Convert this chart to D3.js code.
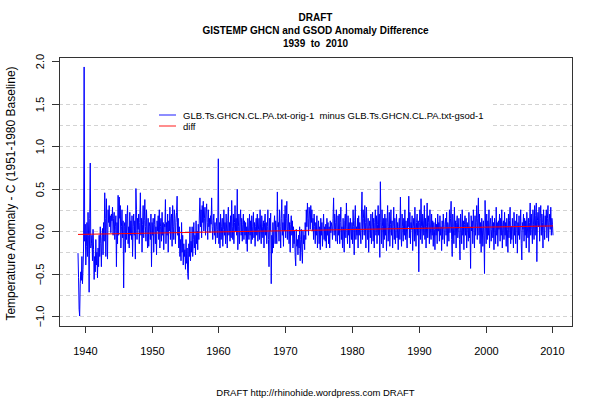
<html>
<head>
<meta charset="utf-8">
<style>
body { margin: 0; background: #fff; }
text { font-family: "Liberation Sans", Arial, Helvetica, sans-serif; fill: #000; white-space: pre; }
</style>
</head>
<body>
<div id="chart"></div>
<script src="https://d3js.org/d3.v7.min.js"></script>
<script>
// monthly anomaly difference (orig - gsod), starting Jan 1939
var startYear = 1939;
var diff1930s = [-0.26, -0.55, -0.92, -1.00, -0.62, -0.48, -0.58, -0.30, -0.62, -0.45, -0.20, 1.93];
var diff1940s = [
  -0.12, 0.08, -0.40, -0.18, 0.10, -0.30, 0.22, -0.05, -0.72, 0.15, 0.80, -0.20,
  -0.15, -0.05, -0.35, 0.02, -0.22, -0.57, -0.30, -0.48, -0.10, -0.40, -0.25, -0.55,
  -0.20, -0.42, -0.05, -0.30, 0.05, -0.15, -0.42, -0.08, 0.03, -0.28, 0.10, -0.12,
  0.45, 0.15, -0.30, 0.38, 0.02, -0.33, 0.25, 0.10, 0.30, 0.05, 0.18, -0.02,
  0.20, 0.12, 0.28, -0.05, 0.15, 0.22, -0.10, 0.05, 0.18, -0.42, 0.10, -0.15,
  0.42, -0.05, 0.40, 0.15, 0.30, -0.20, 0.05, 0.25, -0.08, 0.12, -0.67, 0.05,
  0.10, -0.25, 0.20, -0.10, 0.15, 0.30, -0.15, 0.05, -0.20, 0.22, -0.05, 0.12,
  -0.10, 0.18, -0.30, 0.05, 0.20, -0.05, 0.12, -0.33, 0.50, 0.25, -0.10, 0.15,
  0.02, 0.20, -0.15, 0.10, 0.45, -0.05, 0.15, -0.25, 0.08, 0.30, -0.08, 0.12,
  0.37, 0.05, -0.12, 0.25, 0.00, -0.20, 0.15, -0.18, 0.10, 0.05, -0.10, 0.20
];
var diff1950s = [
  -0.42, 0.10, -0.05, 0.15, -0.25, 0.08, 0.20, -0.15, 0.05, -0.28, 0.12, 0.00,
  0.18, -0.10, 0.25, -0.20, 0.05, 0.15, -0.12, 0.22, -0.05, 0.10, -0.22, 0.08,
  0.05, 0.37, -0.15, 0.10, -0.05, 0.20, -0.25, 0.12, 0.00, 0.28, -0.10, 0.15,
  0.20, -0.18, 0.30, 0.05, -0.10, 0.25, 0.15, -0.15, 0.10, 0.22, 0.41, -0.05,
  0.15, -0.20, 0.05, -0.30, -0.10, -0.35, 0.10, -0.25, -0.05, -0.40, -0.15, -0.30,
  -0.22, -0.45, -0.10, -0.38, -0.20, -0.50, -0.57, -0.15, -0.30, 0.05, -0.35, -0.12,
  -0.25, 0.05, -0.30, -0.10, 0.10, -0.20, -0.05, -0.28, 0.12, -0.15, 0.00, -0.22,
  0.08, -0.10, 0.20, 0.39, 0.05, 0.25, -0.08, 0.30, 0.10, 0.35, 0.00, 0.15,
  0.28, -0.05, 0.20, 0.32, 0.10, -0.10, 0.25, 0.05, 0.15, -0.02, 0.18, 0.08,
  0.39, 0.05, -0.10, 0.12, 0.20, -0.05, 0.10, -0.15, 0.05, 0.15, -0.08, 0.02
];
var diff1960s = [
  0.85, -0.15, 0.10, -0.20, 0.20, -0.10, 0.05, 0.15, -0.18, 0.02, 0.25, -0.05,
  0.10, -0.15, 0.20, 0.00, -0.20, 0.12, 0.28, -0.05, 0.10, -0.12, 0.18, -0.08,
  0.36, 0.05, -0.10, 0.20, -0.15, 0.10, 0.30, 0.00, 0.15, -0.05, 0.49, -0.22,
  0.05, 0.20, -0.15, 0.10, 0.25, -0.05, 0.15, -0.12, 0.08, 0.20, -0.10, 0.12,
  -0.05, 0.10, -0.15, 0.05, -0.24, 0.15, 0.00, -0.10, 0.20, -0.05, 0.12, -0.15,
  0.18, -0.10, 0.05, 0.22, -0.08, 0.10, -0.18, 0.05, 0.15, -0.05, 0.20, -0.12,
  0.02, 0.15, -0.10, 0.25, 0.00, -0.15, 0.18, 0.05, -0.08, 0.12, -0.20, 0.10,
  0.20, -0.05, 0.10, -0.15, 0.05, 0.25, -0.10, -0.42, 0.15, 0.00, 0.21, -0.62,
  -0.05, -0.26, 0.10, -0.20, 0.05, 0.18, -0.15, 0.12, 0.02, -0.15, 0.46, 0.05,
  0.10, -0.12, 0.25, 0.05, -0.20, 0.15, 0.37, -0.05, 0.10, -0.18, 0.20, 0.00
];
var diff1970s = [
  0.30, -0.08, 0.15, 0.35, -0.10, 0.05, 0.20, -0.15, 0.10, -0.25, 0.08, 0.18,
  -0.05, 0.12, -0.20, 0.05, -0.15, 0.00, -0.30, -0.41, 0.02, -0.18, -0.10, -0.28,
  -0.05, -0.20, 0.05, -0.35, -0.10, 0.02, -0.25, -0.38, 0.00, -0.15, -0.05, -0.22,
  0.10, -0.10, 0.25, 0.05, 0.33, 0.15, -0.05, 0.28, 0.20, 0.02, 0.30, 0.10,
  0.25, 0.00, 0.15, -0.10, 0.20, 0.05, -0.15, 0.10, -0.05, 0.18, -0.20, 0.02,
  0.12, -0.15, 0.05, -0.22, 0.15, -0.05, 0.10, -0.18, 0.02, 0.20, -0.10, 0.05,
  -0.12, 0.08, -0.20, 0.15, -0.05, 0.10, -0.15, 0.05, -0.20, 0.12, -0.02, 0.10,
  0.05, -0.10, 0.15, 0.39, -0.05, 0.20, 0.10, -0.12, 0.25, 0.02, -0.15, 0.18,
  -0.05, 0.20, -0.15, 0.10, 0.28, -0.10, 0.05, -0.20, 0.15, 0.00, -0.25, 0.12,
  0.20, -0.08, 0.33, 0.05, -0.15, 0.18, -0.05, 0.10, -0.20, 0.15, 0.02, -0.10
];
var diff1980s = [
  0.10, -0.15, 0.25, 0.05, -0.28, 0.12, 0.30, -0.10, 0.05, -0.05, 0.15, -0.20,
  0.18, -0.05, 0.10, 0.00, -0.15, 0.20, 0.46, -0.10, 0.25, 0.15, -0.05, 0.30,
  0.10, -0.20, 0.28, 0.05, -0.10, 0.15, -0.25, 0.05, 0.12, -0.08, 0.20, -0.15,
  0.05, 0.22, -0.12, 0.15, -0.20, 0.10, 0.25, -0.05, 0.18, -0.15, 0.08, 0.30,
  -0.05, 0.20, -0.31, 0.58, 0.10, -0.15, 0.25, 0.05, -0.20, 0.15, -0.10, 0.20,
  -0.05, 0.15, -0.23, 0.10, 0.30, -0.12, 0.05, 0.22, -0.18, 0.08, 0.25, -0.05,
  0.12, -0.20, 0.05, 0.28, -0.10, 0.15, -0.15, 0.02, 0.20, -0.08, 0.10, -0.22,
  0.05, 0.15, -0.10, 0.40, 0.00, -0.18, 0.20, 0.05, -0.12, 0.15, -0.05, 0.25,
  -0.10, 0.12, 0.00, -0.20, 0.15, 0.05, 0.41, -0.08, 0.22, -0.15, 0.10, 0.02,
  0.18, -0.23, 0.05, 0.15, -0.12, 0.28, 0.00, -0.18, 0.10, 0.20, -0.05, 0.12
];
var diff1990s = [
  -0.48, 0.10, 0.25, -0.10, 0.38, 0.05, -0.15, 0.20, 0.12, -0.05, 0.30, -0.10,
  0.15, -0.20, 0.05, 0.33, -0.08, 0.18, 0.10, -0.15, 0.25, 0.00, -0.10, 0.20,
  -0.05, 0.12, -0.18, 0.10, 0.02, -0.22, 0.15, -0.05, 0.08, -0.15, 0.20, 0.00,
  0.10, -0.12, 0.18, -0.05, 0.05, -0.23, 0.12, -0.10, 0.20, 0.02, -0.15, 0.08,
  0.15, -0.05, 0.22, -0.18, 0.10, 0.05, -0.12, 0.25, -0.02, 0.15, 0.35, -0.10,
  -0.30, 0.20, 0.05, -0.15, 0.28, -0.05, 0.12, -0.20, 0.10, 0.18, -0.08, 0.02,
  0.15, -0.10, -0.34, 0.20, 0.05, -0.15, 0.25, -0.05, 0.12, -0.22, 0.08, 0.18,
  -0.05, 0.15, -0.20, 0.10, 0.02, -0.12, 0.22, -0.08, 0.05, -0.44, 0.18, 0.00,
  0.12, -0.15, 0.25, 0.05, -0.20, 0.18, -0.05, 0.10, 0.30, -0.10, 0.15, 0.39,
  -0.05, 0.20, -0.15, 0.10, -0.25, 0.15, 0.05, -0.18, 0.12, -0.05, -0.50, 0.36
];
var diff2000s = [
  0.05, -0.15, 0.20, -0.10, 0.12, -0.05, 0.25, -0.20, 0.08, 0.15, -0.12, 0.02,
  0.18, -0.08, 0.10, -0.22, 0.15, 0.05, -0.15, 0.28, -0.05, 0.10, -0.18, 0.12,
  0.02, 0.20, -0.12, 0.15, -0.05, 0.25, -0.20, 0.08, 0.12, -0.10, 0.22, -0.05,
  0.10, -0.18, 0.15, 0.02, -0.25, 0.20, -0.08, 0.12, 0.28, -0.15, 0.05, -0.10,
  0.15, 0.00, -0.20, 0.22, -0.05, 0.12, -0.15, 0.08, 0.20, -0.26, 0.10, -0.05,
  0.18, -0.10, 0.05, 0.25, -0.15, -0.34, 0.10, 0.02, 0.20, -0.12, 0.15, -0.05,
  0.12, -0.20, 0.22, 0.05, -0.08, 0.15, -0.25, 0.10, 0.33, -0.05, 0.20, 0.02,
  -0.15, 0.25, 0.08, -0.10, 0.30, -0.05, 0.18, 0.33, -0.36, 0.12, 0.22, 0.05,
  0.28, -0.12, 0.15, 0.30, -0.05, 0.20, 0.10, -0.20, 0.25, 0.05, -0.10, 0.18,
  0.05, 0.25, -0.08, 0.15, 0.30, -0.12, 0.10, 0.20, 0.02, 0.28, -0.05, 0.15
];
var diff2010s = [0.08, -0.05];

// linear trend of the difference, value at first and last month
var trendEnds = [-0.04, 0.06];

var xTicks = [1940, 1950, 1960, 1970, 1980, 1990, 2000, 2010];
var yTicks = [-1.0, -0.5, 0.0, 0.5, 1.0, 1.5, 2.0];
var gridValues = [-1.0, -0.75, -0.5, -0.25, 0, 0.25, 0.5, 0.75, 1.0, 1.25, 1.5];

var seriesName = "GLB.Ts.GHCN.CL.PA.txt-orig-1  minus GLB.Ts.GHCN.CL.PA.txt-gsod-1";
var trendName = "diff";

var values = [].concat(diff1930s, diff1940s, diff1950s, diff1960s, diff1970s,
                       diff1980s, diff1990s, diff2000s, diff2010s);
var data = values.map(function (v, i) { return { t: startYear + i / 12, v: v }; });

var W = 600, H = 400;
var box = { left: 59, right: 572, top: 57, bottom: 326 };

var svg = d3.select("#chart").append("svg")
    .attr("width", W).attr("height", H);

// R style axis ranges: data range padded by 4% on each side
var tExt = d3.extent(data, function (d) { return d.t; });
var vExt = d3.extent(data, function (d) { return d.v; });
var tPad = (tExt[1] - tExt[0]) * 0.04, vPad = (vExt[1] - vExt[0]) * 0.04;

var x = d3.scaleLinear().domain([tExt[0] - tPad, tExt[1] + tPad]).range([box.left, box.right]);
var y = d3.scaleLinear().domain([vExt[0] - vPad, vExt[1] + vPad]).range([box.bottom, box.top]);

// dashed grid
svg.append("g").selectAll("line").data(gridValues).enter().append("line")
    .attr("x1", box.left).attr("x2", box.right)
    .attr("y1", function (d) { return Math.round(y(d)) + 0.5; })
    .attr("y2", function (d) { return Math.round(y(d)) + 0.5; })
    .attr("stroke", "#d3d3d3")
    .attr("stroke-dasharray", "4,3");

// the monthly series
svg.append("path").datum(data)
    .attr("fill", "none")
    .attr("stroke", "#0000ff")
    .attr("stroke-width", 1)
    .attr("d", d3.line().x(function (d) { return x(d.t); }).y(function (d) { return y(d.v); }));

// trend line
svg.append("line")
    .attr("x1", x(tExt[0])).attr("y1", y(trendEnds[0]))
    .attr("x2", x(tExt[1])).attr("y2", y(trendEnds[1]))
    .attr("stroke", "#ff0000")
    .attr("stroke-width", 1);

// legend with white background
var lg = svg.append("g");
lg.append("rect").attr("x", 150).attr("y", 97).attr("width", 343).attr("height", 36).attr("fill", "#fff");
[[seriesName, "#0000ff"], [trendName, "#ff0000"]].forEach(function (e, i) {
    var ly = 115 + i * 11;
    lg.append("line").attr("x1", 159).attr("x2", 176).attr("y1", ly).attr("y2", ly)
        .attr("stroke", e[1]).attr("stroke-width", 1.5).attr("stroke-opacity", 0.6);
    lg.append("text").attr("x", 183).attr("y", ly + 3.5)
        .style("font-size", "9.5px").text(e[0]);
});

// box
svg.append("rect")
    .attr("x", box.left + 0.5).attr("y", box.top + 0.5)
    .attr("width", box.right - box.left).attr("height", box.bottom - box.top)
    .attr("fill", "none").attr("stroke", "#333");

// x axis
var xa = svg.append("g");
xTicks.forEach(function (t) {
    var px = Math.round(x(t)) + 0.5;
    xa.append("line").attr("x1", px).attr("x2", px).attr("y1", box.bottom).attr("y2", box.bottom + 7).attr("stroke", "#333");
    xa.append("text").attr("x", px).attr("y", 355).attr("text-anchor", "middle")
        .style("font-size", "11px").text(t);
});

// y axis (labels parallel to axis, as R does)
var ya = svg.append("g");
yTicks.forEach(function (v) {
    var py = Math.round(y(v)) + 0.5;
    ya.append("line").attr("x1", box.left - 7).attr("x2", box.left).attr("y1", py).attr("y2", py).attr("stroke", "#333");
    ya.append("text").attr("transform", "translate(44," + py + ") rotate(-90)")
        .attr("text-anchor", "middle").style("font-size", "11px").text(d3.format(".1f")(v));
});

svg.append("text").attr("transform", "translate(15," + ((box.top + box.bottom) / 2 + 2) + ") rotate(-90)")
    .attr("text-anchor", "middle").style("font-size", "12px")
    .text("Temperature Anomaly - C (1951-1980 Baseline)");

// titles
var titles = ["DRAFT", "GISTEMP GHCN and GSOD Anomaly Difference", "1939  to  2010"];
titles.forEach(function (s, i) {
    svg.append("text").attr("x", (box.left + box.right) / 2).attr("y", 21 + i * 13)
        .attr("text-anchor", "middle").style("font-size", "10px").style("font-weight", "bold")
        .text(s);
});

svg.append("text").attr("x", (box.left + box.right) / 2).attr("y", 396)
    .attr("text-anchor", "middle").style("font-size", "9.5px")
    .text("DRAFT http://rhinohide.wordpress.com DRAFT");
</script>
</body>
</html>
